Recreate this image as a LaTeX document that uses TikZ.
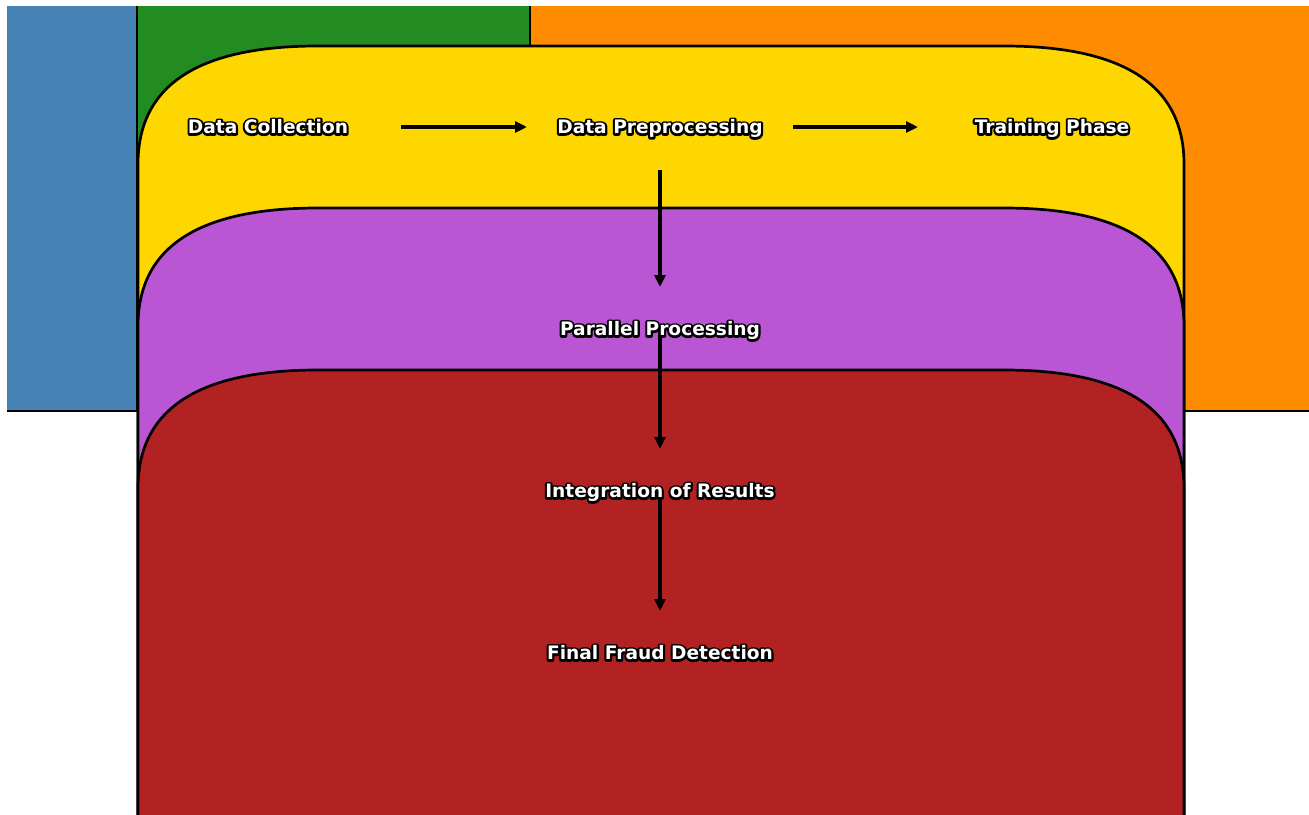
\documentclass[tikz,border=0pt]{standalone}
\usepackage{fontspec}
\setmainfont{DejaVu Sans}
\usetikzlibrary{arrows.meta,calc}
\pgfdeclarelayer{bg}
\pgfdeclarelayer{arrlayer}
\pgfsetlayers{bg,arrlayer,main}
\definecolor{cblue}{HTML}{4682B4}
\definecolor{cgreen}{HTML}{228B22}
\definecolor{corange}{HTML}{FF8C00}
\definecolor{cgold}{HTML}{FFD700}
\definecolor{corchid}{HTML}{BA55D3}
\definecolor{cred}{HTML}{B22222}
\newcommand\olt[1]{\rlap{\special{pdf:literal direct 1 Tr 4.2 w 1 j 0 0 0 RG}#1\special{pdf:literal direct 0 Tr}}#1}
\newcommand\rbox[2]{%
  \filldraw[fill=#1,boxline] (138,900) -- (138,#2+118)
    .. controls (138,#2+39.3) and (198,#2) .. (318,#2)
    -- (1004,#2)
    .. controls (1124,#2) and (1184,#2+39.3) .. (1184,#2+118)
    -- (1184,900) -- cycle;}
\begin{document}
\begin{tikzpicture}[x=1pt,y=-1pt,
  boxline/.style={draw=black,line width=2.7pt},
  lbl/.style={inner sep=0pt,text=white,text height=17pt,text depth=3.5pt,
    font=\bfseries\fontsize{18.6}{22}\selectfont},
  arr/.style={line width=3.3pt,-{Triangle[length=12pt,width=11pt]}}]
\useasboundingbox (0,0) rectangle (1309,814);
\begin{pgfonlayer}{bg}
  \clip (7,6) rectangle (1309,814);
  \fill[white] (0,0) rectangle (1309,814);
  \filldraw[fill=cblue,boxline] (-10,-10) rectangle (137,411);
  \filldraw[fill=cgreen,boxline] (137,-10) rectangle (530,411);
  \filldraw[fill=corange,boxline] (530,-10) rectangle (1330,411);
  \rbox{cgold}{46}
  \rbox{corchid}{208}
  \rbox{cred}{370}
\end{pgfonlayer}
\node[lbl] (dc) at (268,127) {\olt{Data Collection}};
\node[lbl] (dp) at (660,127) {\olt{Data Preprocessing}};
\node[lbl] (tp) at (1052,127) {\olt{Training Phase}};
\node[lbl] (pp) at (660,329) {\olt{Parallel Processing}};
\node[lbl] (ir) at (660,491) {\olt{Integration of Results}};
\node[lbl] (fd) at (660,653) {\olt{Final Fraud Detection}};
\begin{pgfonlayer}{arrlayer}
  \draw[arr] ($(dc.center)+(133,0)$) -- ($(dp.center)+(-133,0)$);
  \draw[arr] ($(dp.center)+(133,0)$) -- ($(tp.center)+(-134,0)$);
  \draw[arr] ($(dp.center)+(0,43)$) -- ($(pp.center)+(0,-42)$);
  \draw[arr] ($(pp.center)+(0,1)$) -- ($(ir.center)+(0,-42)$);
  \draw[arr] ($(ir.center)+(0,6)$) -- ($(fd.center)+(0,-42)$);
\end{pgfonlayer}
\end{tikzpicture}
\end{document}
